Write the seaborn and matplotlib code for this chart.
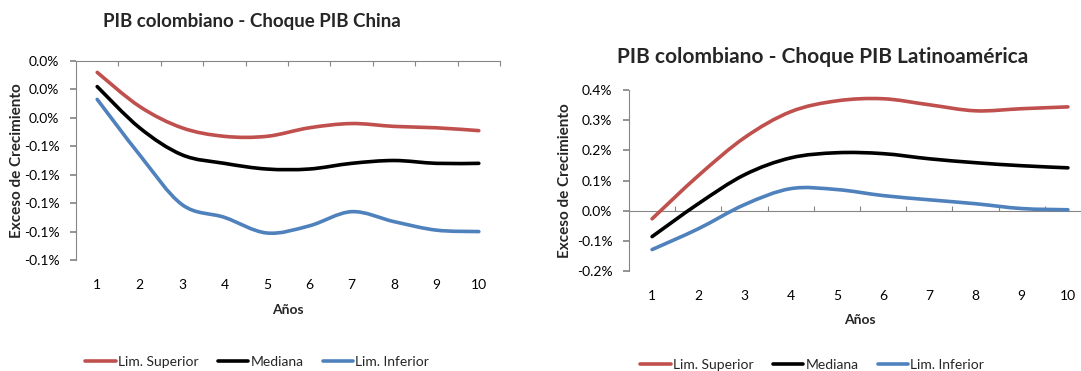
import matplotlib
matplotlib.use("Agg")
import matplotlib.pyplot as plt
from matplotlib.lines import Line2D
from matplotlib.path import Path
from matplotlib.patches import PathPatch
import seaborn as sns
import pandas as pd

# data (values in %)
years = [1, 2, 3, 4, 5, 6, 7, 8, 9, 10]

china_sup = [-0.008, -0.032, -0.047, -0.053, -0.053, -0.047, -0.044, -0.046, -0.047, -0.049]
china_med = [-0.018, -0.047, -0.066, -0.072, -0.076, -0.076, -0.072, -0.070, -0.072, -0.072]
china_inf = [-0.027, -0.066, -0.101, -0.110, -0.121, -0.116, -0.106, -0.113, -0.119, -0.120]

latam_sup = [-0.027, 0.116, 0.242, 0.328, 0.364, 0.371, 0.351, 0.331, 0.338, 0.344]
latam_med = [-0.086, 0.023, 0.119, 0.175, 0.192, 0.189, 0.172, 0.159, 0.149, 0.142]
latam_inf = [-0.129, -0.060, 0.020, 0.073, 0.070, 0.050, 0.036, 0.023, 0.007, 0.003]

series_names = ["Lim. Superior", "Mediana", "Lim. Inferior"]
colors = ["#C0504D", "#000000", "#4F81BD"]

china_yticks = [0.0, -0.02, -0.04, -0.06, -0.08, -0.10, -0.12, -0.14]
china_ylabels = ["0.0%", "0.0%", "0.0%", "-0.1%", "-0.1%", "-0.1%", "-0.1%", "-0.1%"]
latam_yticks = [0.4, 0.3, 0.2, 0.1, 0.0, -0.1, -0.2]
latam_ylabels = ["0.4%", "0.3%", "0.2%", "0.1%", "0.0%", "-0.1%", "-0.2%"]


def long_frame(sup, med, inf):
    rows = []
    for name, vals in zip(series_names, [sup, med, inf]):
        for x, v in zip(years, vals):
            rows.append({"Año": x, "valor": v, "serie": name})
    return pd.DataFrame(rows)


def smooth_lines(ax):
    # swap seaborn's straight polylines for Excel-style smoothed curves (Bezier through same points)
    for line in list(ax.lines):
        xs, ys = line.get_xdata(), line.get_ydata()
        pts = list(zip(xs, ys))
        n = len(pts)
        verts, codes = [pts[0]], [Path.MOVETO]
        for i in range(n - 1):
            p0 = pts[max(i - 1, 0)]
            p1, p2 = pts[i], pts[i + 1]
            p3 = pts[min(i + 2, n - 1)]
            c1 = (p1[0] + (p2[0] - p0[0]) / 6, p1[1] + (p2[1] - p0[1]) / 6)
            c2 = (p2[0] - (p3[0] - p1[0]) / 6, p2[1] - (p3[1] - p1[1]) / 6)
            verts += [c1, c2, p2]
            codes += [Path.CURVE4] * 3
        ax.add_patch(PathPatch(Path(verts, codes), facecolor="none",
                               edgecolor=line.get_color(), linewidth=line.get_linewidth(),
                               capstyle="round", joinstyle="round", zorder=3))
        line.remove()


sns.set_theme(style="white")
plt.rcParams["font.family"] = ["Lato", "DejaVu Sans"]

W, H = 1081, 371
fig = plt.figure(figsize=(W / 100, H / 100), dpi=100)


def axes_px(left, top, right, bottom):
    return fig.add_axes([left / W, 1 - bottom / H, (right - left) / W, (bottom - top) / H])


def draw_panel(ax, df, yticks, ylabels, ylim, title, title_size, title_xy, ylabel_x,
               xlabel_y, leg_xy, zero_tick_dir):
    sns.lineplot(data=df, x="Año", y="valor", hue="serie", hue_order=series_names,
                 palette=colors, linewidth=2.6, ax=ax, legend=False, sort=False)
    smooth_lines(ax)
    ax.set_xlim(0.5, 10.5)
    ax.set_ylim(*ylim)
    ax.set_xticks(years)
    ax.set_xticklabels([str(y) for y in years])
    ax.set_xticks([x + 0.5 for x in years], minor=True)
    ax.set_yticks(yticks)
    ax.set_yticklabels(ylabels)
    ax.set_xlabel("")
    ax.set_ylabel("")

    for s in ["right", "bottom"]:
        ax.spines[s].set_visible(False)
    ax.spines["left"].set_color("#868686")
    ax.spines["left"].set_linewidth(0.8)
    ax.spines["top"].set_position(("data", 0))
    ax.spines["top"].set_color("#868686")
    ax.spines["top"].set_linewidth(0.8)

    ax.tick_params(axis="y", which="major", left=True, length=4, color="#868686",
                   labelsize=10, labelcolor="#000000", pad=8)
    ax.tick_params(axis="x", which="major", bottom=False, top=False, length=0,
                   labelsize=10, labelcolor="#000000", pad=14)
    ax.tick_params(axis="x", which="minor", top=True, bottom=False, length=3.5,
                   direction=zero_tick_dir, color="#868686", width=0.8)

    fig.text(title_xy[0] / W, 1 - title_xy[1] / H, title, fontsize=title_size,
             fontweight="bold", ha="left", va="center")
    pos = ax.get_position()
    fig.text(ylabel_x / W, (pos.y0 + pos.y1) / 2, "Exceso de Crecimiento", rotation=90,
             fontsize=11, fontweight="bold", ha="center", va="center")
    fig.text((pos.x0 + pos.x1) / 2, 1 - xlabel_y / H, "Años", fontsize=10,
             fontweight="bold", ha="center", va="center")

    handles = [Line2D([], [], color=c, linewidth=2.6) for c in colors]
    fig.legend(handles, series_names, loc="center left",
               bbox_to_anchor=(leg_xy[0] / W, 1 - leg_xy[1] / H), ncol=3, frameon=False,
               fontsize=10, handlelength=2.2, handletextpad=0.15, columnspacing=1.4,
               borderpad=0, borderaxespad=0)


ax1 = axes_px(76, 61, 500, 260)
draw_panel(ax1, long_frame(china_sup, china_med, china_inf), china_yticks, china_ylabels,
           (-0.14, 0.0), "PIB colombiano - Choque PIB China", 13.5, (103, 22), 17, 310,
           (85, 362), "in")

ax2 = axes_px(629, 90, 1091, 271)
draw_panel(ax2, long_frame(latam_sup, latam_med, latam_inf), latam_yticks, latam_ylabels,
           (-0.2, 0.4), "PIB colombiano - Choque PIB Latinoamérica", 15, (617, 57), 565, 320,
           (640, 365), "out")

fig.savefig("out.png", dpi=100)
